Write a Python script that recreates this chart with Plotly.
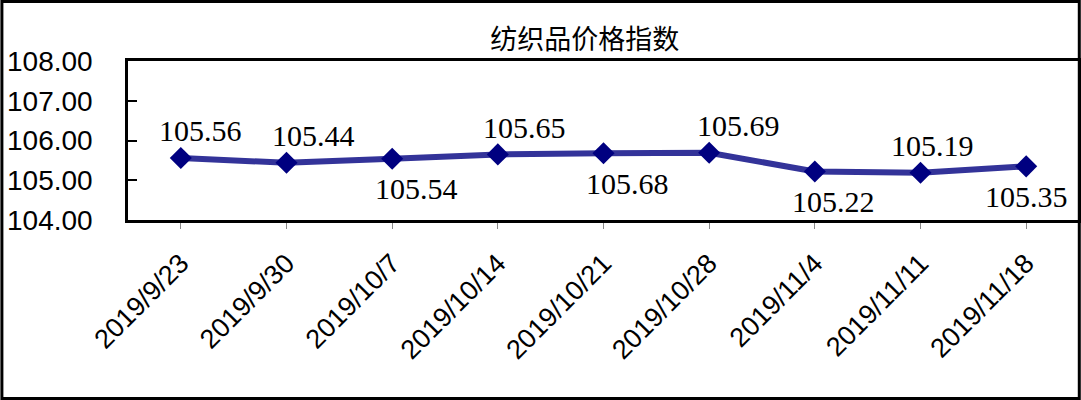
import plotly.graph_objects as go

# weekly textile price index
dates = ["2019/9/23", "2019/9/30", "2019/10/7", "2019/10/14", "2019/10/21",
         "2019/10/28", "2019/11/4", "2019/11/11", "2019/11/18"]
index_vals = [105.56, 105.44, 105.54, 105.65, 105.68, 105.69, 105.22, 105.19, 105.35]
y_ticks = [104, 105, 106, 107, 108]

# where each value label sits (Excel style, alternating above / below)
label_side = [1, 1, -1, 1, -1, 1, -1, 1, -1]
label_nudge = [20, 27, 24, 27, 24, 29, 19, 12, 0]

fig = go.Figure()
fig.add_trace(go.Scatter(
    x=dates, y=index_vals,
    mode="lines+markers",
    line=dict(color="#333399", width=6),
    marker=dict(symbol="diamond", size=17, color="#000080"),
    showlegend=False,
))

for d, v, side, dx in zip(dates, index_vals, label_side, label_nudge):
    fig.add_annotation(
        x=d, y=v, text=f"{v:.2f}", showarrow=False,
        xshift=dx, yshift=27 if side > 0 else -30,
        font=dict(family="Liberation Serif", size=30, color="black"),
    )

# outer border of the picture
fig.add_shape(type="rect", xref="paper", yref="paper",
              x0=-0.1326, x1=1.0003, y0=-1.1226, y1=1.3742,
              line=dict(color="black", width=3), layer="above")

fig.update_layout(
    width=1081, height=400,
    margin=dict(l=128, r=2, t=61, b=180, autoexpand=False),
    paper_bgcolor="white", plot_bgcolor="white",
    title=dict(text="纺织品价格指数", x=0.541, y=0.9, xanchor="center", yanchor="middle",
               font=dict(family="Noto Sans CJK SC", size=27, color="black")),
    xaxis=dict(
        type="category", range=[-0.5, 8.5], automargin=False,
        showline=True, mirror=True, linecolor="black", linewidth=2.5,
        ticks="outside", ticklen=6, tickcolor="#888888", tickwidth=1,
        tickangle=-45, ticklabelstandoff=8,
        tickfont=dict(family="Liberation Sans", size=27, color="black"),
        showgrid=False, zeroline=False,
    ),
    yaxis=dict(
        range=[104, 108], tickvals=y_ticks, tickformat=".2f", automargin=False,
        showline=True, mirror=True, linecolor="black", linewidth=2.5,
        ticks="inside", ticklen=9, tickcolor="black", tickwidth=2,
        ticklabelstandoff=27,
        tickfont=dict(family="Liberation Sans", size=28, color="black"),
        showgrid=False, zeroline=False,
    ),
)

# page body has an 8px default margin; drop it so the chart fills the window
fig.write_html("out.html", config={"displayModeBar": False},
               post_script="document.body.style.margin='0';")
